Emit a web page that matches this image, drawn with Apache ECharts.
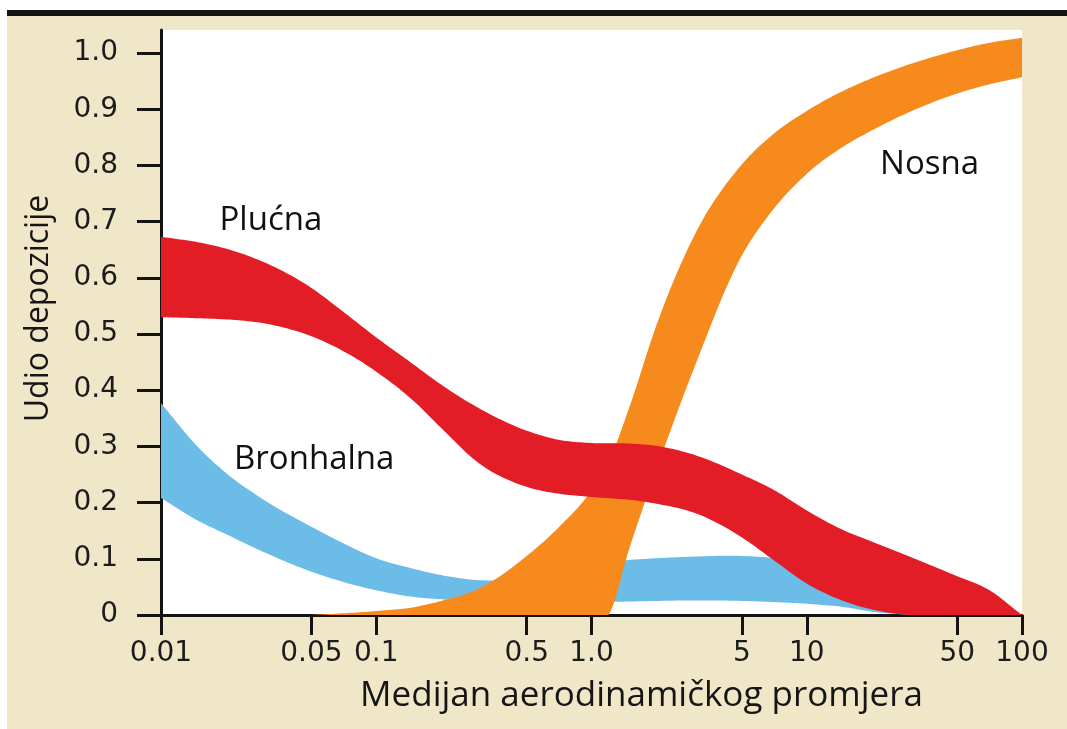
<!DOCTYPE html>
<html>
<head>
<meta charset="utf-8">
<script src="https://cdn.jsdelivr.net/npm/echarts@6/dist/echarts.min.js"></script>
<style>
  html, body { margin: 0; padding: 0; background: #ffffff; }
  #paper { position: absolute; left: 7px; top: 10px; width: 1060px; height: 719px;
           box-sizing: border-box; border-top: 6px solid #141414; background: #f0e7c9; }
  #chart { position: absolute; left: 0; top: 0; width: 1067px; height: 729px; }
</style>
</head>
<body>
<div id="paper"></div>
<div id="chart"></div>
<script>
// ---------------- DATA ----------------
// x: median aerodynamic diameter (log scale), y: deposition fraction
const xTickValues = [0.01, 0.05, 0.1, 0.5, 1, 5, 10, 50, 100];
const xTickLabels = ['0.01', '0.05', '0.1', '0.5', '1.0', '5', '10', '50', '100'];
const yTickValues = [0, 0.1, 0.2, 0.3, 0.4, 0.5, 0.6, 0.7, 0.8, 0.9, 1.0];
const yTickLabels = ['0', '0.1', '0.2', '0.3', '0.4', '0.5', '0.6', '0.7', '0.8', '0.9', '1.0'];

// Plućna (red band)
const plucnaX     = [0.01, 0.015, 0.02, 0.03, 0.05, 0.07, 0.1, 0.15, 0.2, 0.3, 0.5, 0.7, 1, 1.5, 2, 3, 5, 7, 10, 15, 20, 30, 50, 70, 100];
const plucnaUpper = [0.673, 0.663, 0.652, 0.628, 0.582, 0.540, 0.494, 0.445, 0.410, 0.368, 0.328, 0.312, 0.306, 0.305, 0.301, 0.285, 0.250, 0.223, 0.186, 0.150, 0.131, 0.104, 0.069, 0.045, 0.0];
const plucnaLower = [0.530, 0.528, 0.526, 0.519, 0.496, 0.470, 0.433, 0.380, 0.333, 0.270, 0.228, 0.216, 0.210, 0.205, 0.198, 0.182, 0.138, 0.098, 0.056, 0.024, 0.010, 0.0, 0.0, 0.0, 0.0];

// Bronhalna (blue band)
const bronhalnaX     = [0.01, 0.015, 0.02, 0.03, 0.05, 0.07, 0.1, 0.15, 0.2, 0.3, 0.5, 0.7, 1, 1.5, 2, 3, 5, 7, 10, 15, 20, 30];
const bronhalnaUpper = [0.377, 0.297, 0.253, 0.205, 0.157, 0.128, 0.101, 0.082, 0.071, 0.062, 0.066, 0.080, 0.092, 0.098, 0.101, 0.104, 0.105, 0.101, 0.089, 0.062, 0.036, 0.005];
const bronhalnaLower = [0.208, 0.167, 0.144, 0.112, 0.077, 0.059, 0.044, 0.032, 0.028, 0.027, 0.025, 0.024, 0.023, 0.024, 0.025, 0.026, 0.025, 0.023, 0.020, 0.014, 0.006, 0.0];

// Nosna (orange band)
const nosnaX     = [0.05, 0.07, 0.1, 0.15, 0.2, 0.3, 0.5, 0.7, 1, 1.2, 1.5, 2, 3, 5, 7, 10, 15, 20, 30, 50, 70, 100];
const nosnaUpper = [0.0, 0.003, 0.007, 0.014, 0.025, 0.047, 0.105, 0.155, 0.222, 0.272, 0.370, 0.515, 0.675, 0.802, 0.856, 0.897, 0.934, 0.955, 0.980, 1.005, 1.018, 1.027];
const nosnaLower = [0.0, 0.0, 0.0, 0.0, 0.0, 0.0, 0.0, 0.0, 0.0, 0.0, 0.119, 0.258, 0.440, 0.640, 0.722, 0.785, 0.835, 0.862, 0.895, 0.928, 0.944, 0.957];

// Band names and their label anchors (data space)
const bandNames = ['Plućna', 'Bronhalna', 'Nosna'];
const labelX    = [0.0324, 0.0515, 37.2];
const labelY    = [0.702, 0.276, 0.802];

const xAxisName = 'Medijan aerodinamičkog promjera';
const yAxisName = 'Udio depozicije';
// --------------------------------------

const COLORS = { 'Plućna': '#e31d25', 'Bronhalna': '#6cbce8', 'Nosna': '#f68a1c' };

// Cubic Hermite smoothing of a pixel polyline (x increasing), 3-point derivative tangents.
function smoothPixels(p, steps) {
  const n = p.length;
  if (n < 3) return p.slice();
  const dx = [], m = [];
  for (let i = 0; i < n - 1; i++) {
    dx[i] = p[i + 1][0] - p[i][0];
    m[i] = dx[i] === 0 ? 0 : (p[i + 1][1] - p[i][1]) / dx[i];
  }
  const t = [m[0]];
  for (let i = 1; i < n - 1; i++) {
    t[i] = (m[i - 1] * dx[i] + m[i] * dx[i - 1]) / (dx[i - 1] + dx[i]);
  }
  t[n - 1] = m[n - 2];
  const out = [];
  for (let i = 0; i < n - 1; i++) {
    const x0 = p[i][0], y0 = p[i][1], y1 = p[i + 1][1], h = dx[i];
    for (let s = 0; s < steps; s++) {
      const u = s / steps, u2 = u * u, u3 = u2 * u;
      const y = (2 * u3 - 3 * u2 + 1) * y0 + (u3 - 2 * u2 + u) * h * t[i]
              + (-2 * u3 + 3 * u2) * y1 + (u3 - u2) * h * t[i + 1];
      out.push([x0 + u * h, y]);
    }
  }
  out.push(p[n - 1].slice());
  return out;
}

function bandSeries(name, xs, lower, upper) {
  return {
    type: 'custom', name: name, silent: true, animation: false, clip: true,
    data: xs.map((x, i) => [x, lower[i], upper[i]]),
    encode: { x: 0, y: [1, 2] },
    renderItem: function (params, api) {
      if (params.dataIndex !== 0) return null;
      const up = xs.map((x, i) => api.coord([x, upper[i]]));
      const lo = xs.map((x, i) => api.coord([x, lower[i]]));
      const pts = smoothPixels(up, 12).concat(smoothPixels(lo, 12).reverse());
      return { type: 'polygon', shape: { points: pts }, style: { fill: COLORS[name] } };
    }
  };
}

const series = [
  bandSeries('Bronhalna', bronhalnaX, bronhalnaLower, bronhalnaUpper),
  bandSeries('Nosna', nosnaX, nosnaLower, nosnaUpper),
  bandSeries('Plućna', plucnaX, plucnaLower, plucnaUpper),
  {
    type: 'custom', name: 'labels', silent: true, animation: false,
    data: bandNames.map((n, i) => [labelX[i], labelY[i]]),
    encode: { x: 0, y: 1 },
    renderItem: function (params, api) {
      const i = params.dataIndex;
      const c = api.coord([labelX[i], labelY[i]]);
      return { type: 'text', x: c[0], y: c[1],
               style: { text: bandNames[i], fontFamily: 'Open Sans', fontSize: 33, fill: '#111111',
                        align: 'center', verticalAlign: 'middle' } };
    },
    z: 10
  }
];

function fmtX(v) {
  const idx = xTickValues.findIndex(t => Math.abs(Math.log10(t) - Math.log10(v)) < 1e-6);
  return idx >= 0 ? xTickLabels[idx] : '';
}
function fmtY(v) {
  const idx = yTickValues.findIndex(t => Math.abs(t - v) < 1e-6);
  return idx >= 0 ? yTickLabels[idx] : '';
}

const chart = echarts.init(document.getElementById('chart'), null, { renderer: 'canvas' });
chart.setOption({
  backgroundColor: 'transparent',
  animation: false,
  grid: { left: 161, right: 45, top: 30, bottom: 114, show: true,
          backgroundColor: '#ffffff', borderWidth: 0 },
  xAxis: {
    type: 'log', logBase: 10, min: 0.01, max: 100,
    name: xAxisName, nameLocation: 'middle', nameGap: 64,
    nameTextStyle: { fontFamily: 'Open Sans', fontSize: 35, color: '#161616', padding: [0, 0, 0, 100] },
    axisLine: { show: true, onZero: false, lineStyle: { color: '#141414', width: 3 } },
    axisTick: { show: true, length: 20, lineStyle: { color: '#141414', width: 3 }, customValues: xTickValues },
    axisLabel: { customValues: xTickValues, formatter: fmtX, fontFamily: 'DejaVu Sans', fontSize: 28,
                 color: '#1c1c1c', margin: 25 },
    splitLine: { show: false }, minorTick: { show: false }
  },
  yAxis: {
    type: 'value', min: 0, max: 1.041,
    name: yAxisName, nameLocation: 'middle', nameGap: 106,
    nameTextStyle: { fontFamily: 'Open Sans', fontSize: 32, color: '#161616', padding: [0, 0, 0, 28] },
    axisLine: { show: true, lineStyle: { color: '#141414', width: 3 } },
    axisTick: { show: true, length: 24, lineStyle: { color: '#141414', width: 3 }, customValues: yTickValues },
    axisLabel: { customValues: yTickValues, formatter: fmtY, fontFamily: 'DejaVu Sans', fontSize: 28,
                 color: '#1c1c1c', margin: 43 },
    splitLine: { show: false }
  },
  series: series
});
</script>
</body>
</html>
